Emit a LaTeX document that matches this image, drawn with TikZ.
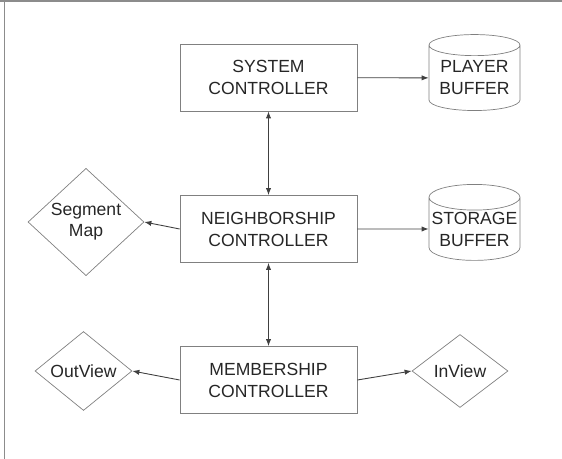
\documentclass[tikz,border=0pt]{standalone}
\usepackage{fontspec}
\setmainfont{Liberation Sans}
\usetikzlibrary{positioning, arrows, arrows.meta, shapes}

\begin{document}
\begin{tikzpicture}[x=0.02cm, y=-0.02cm, >={Latex[length=4pt,width=3pt]},
  ctrl/.style={draw=black!50, rectangle, minimum width=3.54cm, minimum height=1.34cm, inner sep=0pt, align=center, text=black!85, font=\fontsize{10}{12.5}\selectfont},
  buf/.style={draw=black!50, cylinder, shape border rotate=90, aspect=0.3, minimum width=1.82cm, minimum height=1.52cm, inner sep=0pt, align=center, text=black!85, font=\fontsize{10}{12.5}\selectfont},
  view/.style={draw=black!50, diamond, inner sep=0pt, align=center, text=black!85, font=\fontsize{10}{12}\selectfont},
  link/.style={->, black!75, line width=0.5pt}]
  \useasboundingbox (0,0) rectangle (562,459);
  \draw[black!45, line width=1.2pt] (0,1) -- (562,1);
  \draw[black!45, line width=0.9pt] (4.5,0) -- (4.5,459);

  \node[ctrl] (sys) at (268.5,77.5) {SYSTEM\\CONTROLLER};
  \node[ctrl] (nbr) at (268.5,229) {NEIGHBORSHIP\\CONTROLLER};
  \node[ctrl] (mem) at (268.5,380) {MEMBERSHIP\\CONTROLLER};

  \node[buf] (player) at (474.5,78) {PLAYER\\BUFFER};
  \node[buf] (store) at (474.5,229) {STORAGE\\BUFFER};

  \node[view, minimum width=2.32cm, minimum height=1.8cm] (seg) at (86,222) {Segment\\Map};
  \node[view, minimum width=1.94cm, minimum height=1.44cm] (out) at (83.5,371) {OutView};
  \node[view, minimum width=1.92cm, minimum height=1.46cm] (in) at (460,371) {InView};

  \draw[<->, black!75, line width=0.5pt] (sys) -- (nbr);
  \draw[<->, black!75, line width=0.5pt] (nbr) -- (mem);
  \draw[link] (sys) -- (player);
  \draw[link] (nbr) -- (store);
  \draw[link] (nbr.west) -- (seg.east);
  \draw[link] (mem.west) -- (out.east);
  \draw[link] (mem.east) -- (in.west);
\end{tikzpicture}
\end{document}
